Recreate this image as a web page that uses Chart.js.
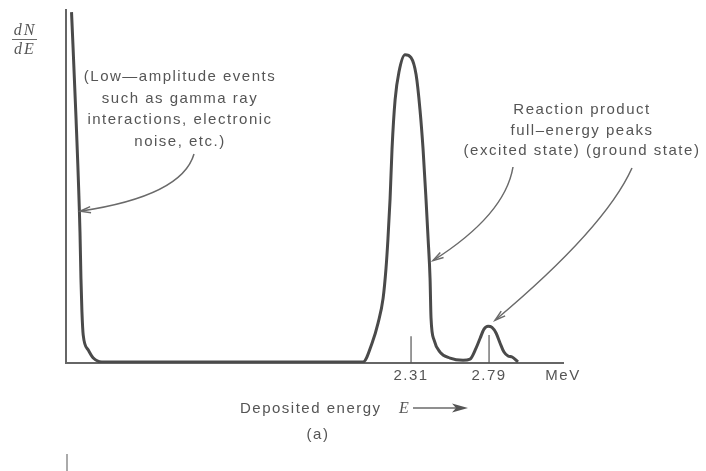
<!DOCTYPE html>
<html>
<head>
<meta charset="utf-8">
<script src="https://cdn.jsdelivr.net/npm/chart.js@4.4.1/dist/chart.umd.min.js"></script>
<style>
  html, body { margin: 0; padding: 0; background: #fff; }
  #wrap { width: 706px; height: 471px; position: relative; }
</style>
</head>
<body>
<div id="wrap"><canvas id="chart"></canvas></div>
<script>
// spectrum: deposited energy (MeV) vs dN/dE (arbitrary units)
const energy = [
    0.221, 0.249, 0.273, 0.279, 0.285, 0.293, 0.324, 0.355, 0.407,
    1.200,
    2.015, 2.070, 2.107, 2.138, 2.156, 2.168, 2.181, 2.193, 2.212, 2.236, 2.273, 2.310, 2.341, 2.365,
    2.384, 2.402, 2.415, 2.427, 2.433, 2.452, 2.488, 2.550, 2.630,
    2.673, 2.710, 2.735, 2.759, 2.784, 2.808, 2.833, 2.858, 2.882, 2.907, 2.932, 2.968
];
const dNdE = [
    99.4, 69.0, 37.2, 23.9, 14.6, 7.9, 3.7, 1.4, 0.3,
    0.3,
    0.3, 5.6, 11.3, 18.3, 26.8, 35.2, 46.5, 60.6, 74.6, 82.5, 87.3, 86.5, 81.7, 71.8,
    60.6, 46.5, 35.2, 23.9, 12.7, 6.5, 3.1, 1.4, 0.8,
    1.1, 4.2, 7.0, 9.6, 10.4, 10.1, 8.5, 5.6, 3.1, 2.0, 1.7, 0.3
];
// short marker lines standing on the axis at the two peak energies
const markEnergy = [2.31, 2.79];
const markHeight = [7.6, 7.9];
// x axis labels
const tickValues = [2.31, 2.79, 3.245];
const tickLabels = ['2.31', '2.79', 'MeV'];

const INK = '#4a4a4a';
const TEXT = '#555';
const FONT = 'Liberation Sans';

function curvedArrow(ctx, x0, y0, cx, cy, x1, y1) {
    ctx.beginPath();
    ctx.moveTo(x0, y0);
    ctx.quadraticCurveTo(cx, cy, x1, y1);
    ctx.stroke();
    const a = Math.atan2(y1 - cy, x1 - cx);
    const L = 11, w = 0.28;
    ctx.beginPath();
    ctx.moveTo(x1 - L * Math.cos(a - w), y1 - L * Math.sin(a - w));
    ctx.lineTo(x1, y1);
    ctx.lineTo(x1 - L * Math.cos(a + w), y1 - L * Math.sin(a + w));
    ctx.stroke();
}

const figureText = {
    id: 'figureText',
    beforeDraw(chart) {
        chart.ctx.letterSpacing = '1.5px';
    },
    afterDraw(chart) {
        const ctx = chart.ctx;
        const sx = chart.scales.x, sy = chart.scales.y;
        ctx.save();
        ctx.letterSpacing = '1.5px';
        ctx.fillStyle = TEXT;
        ctx.font = `15px "${FONT}"`;
        ctx.textAlign = 'center';
        ctx.textBaseline = 'alphabetic';

        ['(Low\u2014amplitude events', 'such as gamma ray', 'interactions, electronic', 'noise, etc.)']
            .forEach((t, i) => ctx.fillText(t, 180, 81 + i * 21.5));
        ['Reaction product', 'full\u2013energy peaks', '(excited state) (ground state)']
            .forEach((t, i) => ctx.fillText(t, 582, 114 + i * 20.5));

        // pointer arrows, tips placed on the curve through the scales
        ctx.strokeStyle = '#6a6a6a';
        ctx.lineWidth = 1.5;
        curvedArrow(ctx, 194, 154, 182, 196, sx.getPixelForValue(0.274), sy.getPixelForValue(43));
        curvedArrow(ctx, 513, 167, 505, 215, sx.getPixelForValue(2.445), sy.getPixelForValue(29));
        curvedArrow(ctx, 632, 168, 605, 228, sx.getPixelForValue(2.827), sy.getPixelForValue(12.1));

        // axis title: Deposited energy E -->
        ctx.textAlign = 'left';
        ctx.fillText('Deposited energy', 240, 413);
        ctx.font = 'italic 16px "Liberation Serif"';
        ctx.fillText('E', 399, 413);
        ctx.beginPath();
        ctx.moveTo(413, 408);
        ctx.lineTo(458, 408);
        ctx.stroke();
        ctx.fillStyle = '#555';
        ctx.beginPath();
        ctx.moveTo(468, 408);
        ctx.lineTo(452, 403.5);
        ctx.lineTo(456, 408);
        ctx.lineTo(452, 412.5);
        ctx.closePath();
        ctx.fill();

        ctx.font = `15px "${FONT}"`;
        ctx.textAlign = 'center';
        ctx.fillText('(a)', 318, 439);

        // dN/dE fraction
        ctx.font = 'italic 16px "Liberation Serif"';
        ctx.letterSpacing = '2px';
        ctx.fillText('dN', 25, 35);
        ctx.fillText('dE', 25, 54);
        ctx.lineWidth = 1;
        ctx.beginPath();
        ctx.moveTo(12, 39.5);
        ctx.lineTo(37, 39.5);
        ctx.stroke();

        // edge of the next panel showing at the bottom
        ctx.strokeStyle = '#aaa';
        ctx.lineWidth = 2;
        ctx.beginPath();
        ctx.moveTo(67, 454);
        ctx.lineTo(67, 471);
        ctx.stroke();
        ctx.restore();
    }
};

new Chart(document.getElementById('chart'), {
    type: 'line',
    data: {
        datasets: [
            {
                data: energy.map((e, i) => ({ x: e, y: dNdE[i] })),
                borderColor: INK,
                borderWidth: 3,
                pointRadius: 0,
                cubicInterpolationMode: 'monotone',
                fill: false
            },
            ...markEnergy.map((e, i) => ({
                data: [{ x: e, y: 0 }, { x: e, y: markHeight[i] }],
                borderColor: TEXT,
                borderWidth: 1.2,
                pointRadius: 0
            }))
        ]
    },
    options: {
        responsive: true,
        maintainAspectRatio: false,
        animation: false,
        layout: { padding: { left: 66, top: 10, right: 143, bottom: 82 } },
        plugins: { legend: { display: false }, tooltip: { enabled: false } },
        scales: {
            x: {
                type: 'linear',
                min: 0.187,
                max: 3.245,
                afterBuildTicks: s => { s.ticks = tickValues.map(v => ({ value: v })); },
                grid: { display: false, drawTicks: false },
                border: { display: true, color: '#666', width: 2 },
                ticks: {
                    autoSkip: false,
                    maxRotation: 0,
                    padding: 4,
                    color: TEXT,
                    font: { family: FONT, size: 15 },
                    callback: (v, i) => tickLabels[i]
                }
            },
            y: {
                min: 0,
                max: 100,
                grid: { display: false, drawTicks: false },
                border: { display: true, color: '#666', width: 2 },
                ticks: { display: false }
            }
        }
    },
    plugins: [figureText]
});
</script>
</body>
</html>
